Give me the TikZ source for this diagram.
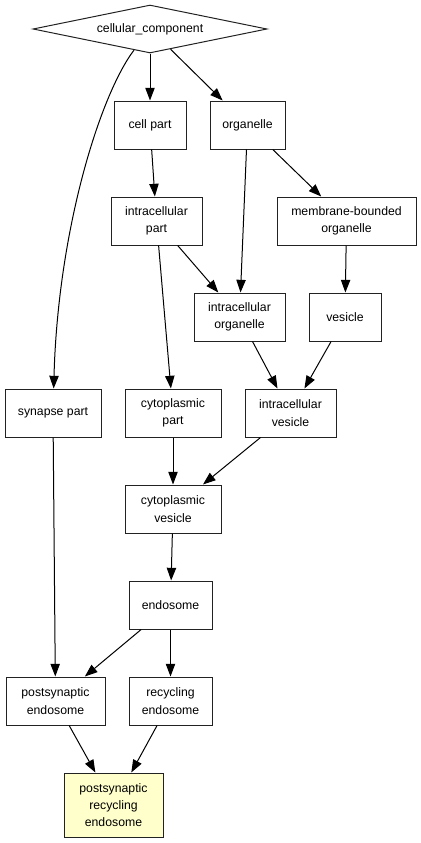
\documentclass[tikz,border=0pt]{standalone}
\usepackage{fontspec}
\setmainfont{Liberation Sans}
\usetikzlibrary{arrows.meta,shapes.geometric}
\definecolor{termfill}{HTML}{FFFFCC}
\definecolor{termink}{HTML}{222222}

\begin{document}
\begin{tikzpicture}[
        x=.75pt,y=-.75pt,>=Triangle,
        term/.style={rectangle,draw=termink,line width=.75pt,fill=white,
          minimum height=36pt,inner sep=0pt,align=center,
          font=\fontsize{9.2}{13}\selectfont},
        root/.style={diamond,draw=termink,line width=.75pt,fill=white,aspect=4.875,
          minimum width=175.5pt,minimum height=36pt,inner sep=0pt,
          font=\fontsize{9.2}{13}\selectfont},
        edge/.style={-{Triangle[length=9.5pt,width=7pt]},draw=black,line width=.75pt}
      ]
        \useasboundingbox (0,0) rectangle (421,843);

        \node[root] (cc) at (150,29) {cellular\_component};

        \node[term,minimum width=54pt] (cellpart) at (150,125) {cell part};
        \node[term,minimum width=56.25pt] (organelle) at (247.5,125) {organelle};
        \node[term,minimum width=68.25pt] (intrapart) at (156.5,221) {intracellular\\part};
        \node[term,minimum width=104.25pt] (mbo) at (346.5,221) {membrane-bounded\\organelle};
        \node[term,minimum width=68.25pt] (intraorg) at (239.5,317) {intracellular\\organelle};
        \node[term,minimum width=54pt] (vesicle) at (345,317) {vesicle};
        \node[term,minimum width=72pt] (synpart) at (53,413) {synapse part};
        \node[term,minimum width=72pt] (cytopart) at (173,413) {cytoplasmic\\part};
        \node[term,minimum width=68.25pt] (intraves) at (290.5,413) {intracellular\\vesicle};
        \node[term,minimum width=72pt] (cytoves) at (173,509) {cytoplasmic\\vesicle};
        \node[term,minimum width=62.25pt] (endosome) at (170.5,605) {endosome};
        \node[term,minimum width=74.25pt] (psendo) at (55.5,701) {postsynaptic\\endosome};
        \node[term,minimum width=62.25pt] (recendo) at (170.5,701) {recycling\\endosome};
        \node[term,minimum width=74.25pt,minimum height=48pt,fill=termfill]
          (psrecendo) at (113.5,805) {postsynaptic\\recycling\\endosome};

        \foreach \a/\b in {cc/cellpart,cc/organelle,cellpart/intrapart,
            intrapart/intraorg,intrapart/cytopart,organelle/intraorg,organelle/mbo,
            mbo/vesicle,intraorg/intraves,vesicle/intraves,synpart/psendo,
            cytopart/cytoves,intraves/cytoves,cytoves/endosome,endosome/psendo,
            endosome/recendo,psendo/psrecendo,recendo/psrecendo}{
          \draw[edge] (\a) -- (\b);
        }
        \draw[edge] (cc) .. controls (100,95) and (58,230) .. (synpart);
      \end{tikzpicture}
\end{document}
